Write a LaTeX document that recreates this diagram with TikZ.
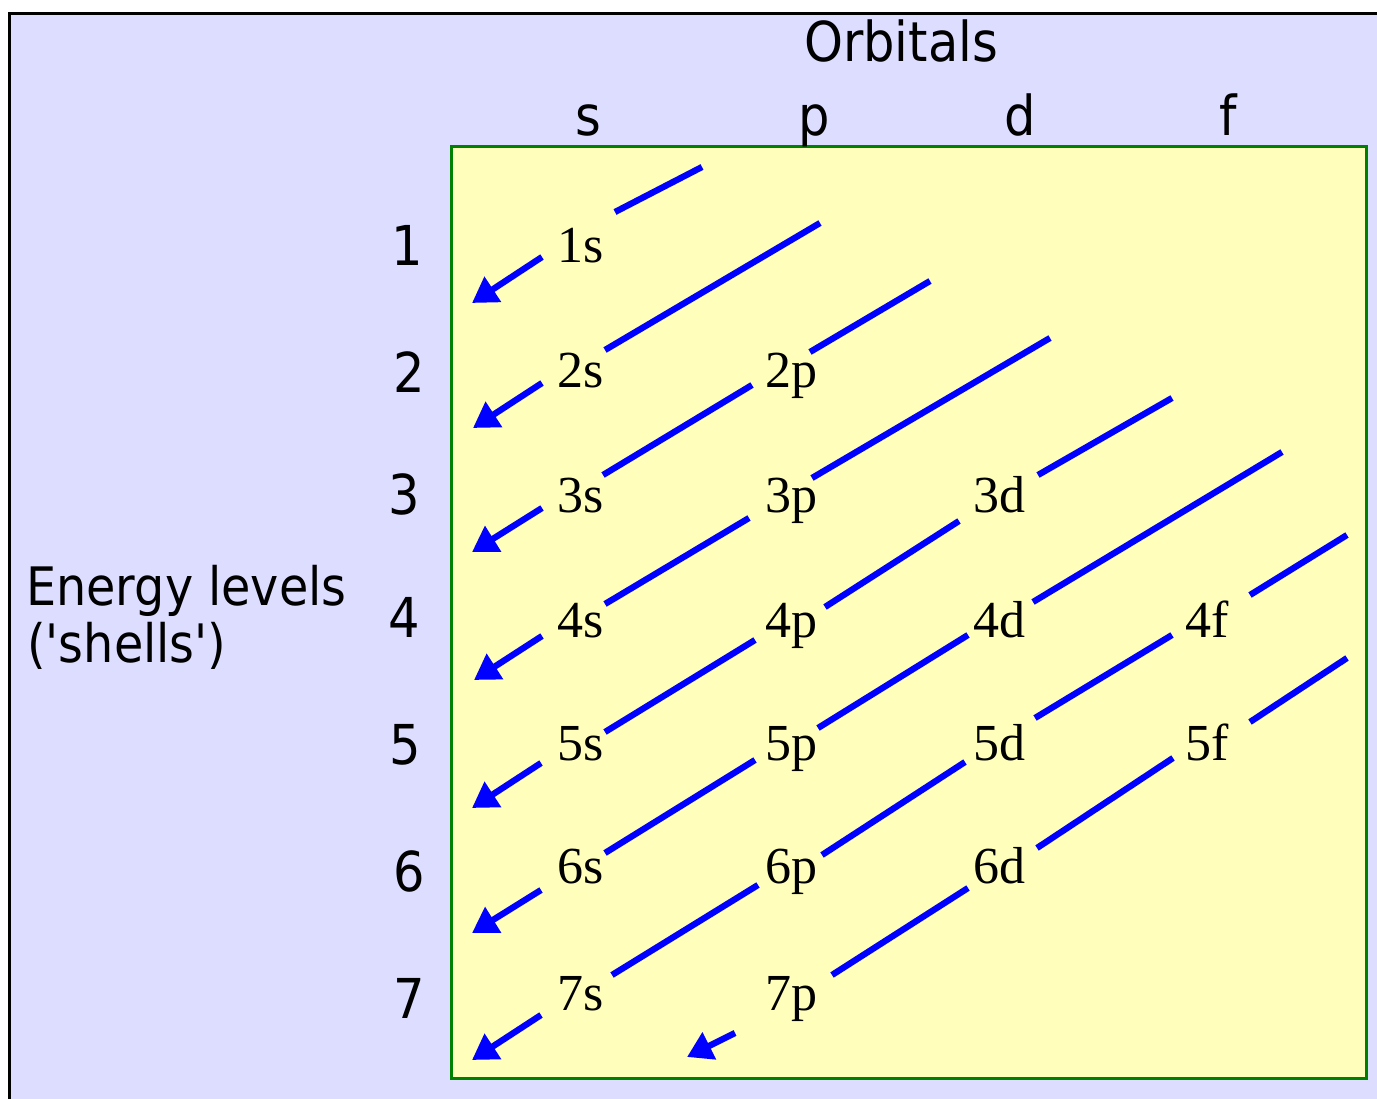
\documentclass[tikz,border=0pt]{standalone}
\usepackage{fontspec}
\setmainfont{Liberation Serif}
\newfontfamily\vsans[FakeStretch=0.9]{DejaVu Sans}
\usetikzlibrary{arrows.meta}
\definecolor{bglav}{HTML}{DDDDFF}
\definecolor{paleyel}{HTML}{FFFFBB}
\definecolor{boxgreen}{HTML}{008000}
\definecolor{arrblue}{HTML}{0000FF}
\begin{document}
\begin{tikzpicture}[x=1pt,y=-1pt,
  orb/.style={anchor=base west,inner sep=0pt,font=\fontsize{52}{60}\selectfont},
  num/.style={anchor=base,inner sep=0pt,font=\vsans\fontsize{55}{66}\selectfont},
  elab/.style={anchor=base west,inner sep=0pt,font=\vsans\fontsize{53}{60}\selectfont},
  seg/.style={arrblue,line width=6.3pt},
  arr/.style={seg,-{Triangle[length=25pt,width=29pt]}}]
\useasboundingbox (0,0) rectangle (1377,1099);
\fill[white] (0,0) rectangle (1377,1099);
% outer panel
\fill[bglav] (9.8,13.8) rectangle (1377,1099);
\draw[black,line width=3.3pt] (9.8,1099) -- (9.8,13.8) -- (1377,13.8);
% yellow box
\draw[boxgreen,fill=paleyel,line width=3.3pt] (451.7,146.7) rectangle (1366.7,1078.3);

% headers
\node[num] (orbitals) at (901,62) {Orbitals};
\node[num] (hs) at (588,136) {s};
\node[num] (hp) at (814,136) {p};
\node[num] (hd) at (1020,136) {d};
\node[num] (hf) at (1228,136) {f};

% energy levels
\node[elab] (energy1) at (26,605) {Energy levels};
\node[elab] (energy2) at (27,662) {('shells')};
\node[num] (n1) at (407,266) {1};
\node[num] (n2) at (409,392) {2};
\node[num] (n3) at (404,514) {3};
\node[num] (n4) at (404,637) {4};
\node[num] (n5) at (405,764) {5};
\node[num] (n6) at (409,891) {6};
\node[num] (n7) at (409,1018) {7};

% orbital labels
\node[orb] (o1s) at (557,263) {1s};
\node[orb] (o2s) at (557,388) {2s};
\node[orb] (o3s) at (557,512) {3s};
\node[orb] (o4s) at (557,637) {4s};
\node[orb] (o5s) at (557,760) {5s};
\node[orb] (o6s) at (557,883) {6s};
\node[orb] (o7s) at (557,1010) {7s};
\node[orb] (o2p) at (765,388) {2p};
\node[orb] (o3p) at (765,512) {3p};
\node[orb] (o4p) at (765,637) {4p};
\node[orb] (o5p) at (765,760) {5p};
\node[orb] (o6p) at (765,883) {6p};
\node[orb] (o7p) at (765,1010) {7p};
\node[orb] (o3d) at (973,512) {3d};
\node[orb] (o4d) at (973,637) {4d};
\node[orb] (o5d) at (973,760) {5d};
\node[orb] (o6d) at (973,883) {6d};
\node[orb] (o4f) at (1185,637) {4f};
\node[orb] (o5f) at (1185,760) {5f};

% segment end points
\coordinate (c1a) at (615,212);   \coordinate (c1b) at (702,167);
\coordinate (c2a) at (605,350);   \coordinate (c2b) at (820,223);
\coordinate (c3a) at (810,352);   \coordinate (c3b) at (930,281);
\coordinate (c4a) at (603,475);   \coordinate (c4b) at (752,385);
\coordinate (c5a) at (812,478);   \coordinate (c5b) at (1050,338);
\coordinate (c6a) at (605,604);   \coordinate (c6b) at (749,518);
\coordinate (c7a) at (1038,475);  \coordinate (c7b) at (1172,398);
\coordinate (c8a) at (825,607);   \coordinate (c8b) at (959,521);
\coordinate (c9a) at (605,732);   \coordinate (c9b) at (755,640);
\coordinate (c10a) at (1033,602); \coordinate (c10b) at (1282,452);
\coordinate (c11a) at (818,728);  \coordinate (c11b) at (968,635);
\coordinate (c12a) at (605,853);  \coordinate (c12b) at (755,760);
\coordinate (c13a) at (1250,595); \coordinate (c13b) at (1347,535);
\coordinate (c14a) at (1035,718); \coordinate (c14b) at (1172,635);
\coordinate (c15a) at (822,855);  \coordinate (c15b) at (965,762);
\coordinate (c16a) at (612,975);  \coordinate (c16b) at (758,885);
\coordinate (c17a) at (1250,722); \coordinate (c17b) at (1347,658);
\coordinate (c18a) at (1037,848); \coordinate (c18b) at (1173,758);
\coordinate (c19a) at (832,975);  \coordinate (c19b) at (968,888);
% arrow start / tip points
\coordinate (a1s) at (542,257);  \coordinate (a1t) at (472,303);
\coordinate (a2s) at (542,383);  \coordinate (a2t) at (473,428);
\coordinate (a3s) at (542,508);  \coordinate (a3t) at (472,552);
\coordinate (a4s) at (542,636);  \coordinate (a4t) at (474,680);
\coordinate (a5s) at (541,763);  \coordinate (a5t) at (472,808);
\coordinate (a6s) at (541,890);  \coordinate (a6t) at (472,933);
\coordinate (a7s) at (541,1015); \coordinate (a7t) at (472,1060);
\coordinate (a8s) at (735,1033); \coordinate (a8t) at (687,1057);

\foreach \i in {1,...,19} \draw[seg] (c\i a) -- (c\i b);
\foreach \i in {1,...,8} \draw[arr] (a\i s) -- (a\i t);
\end{tikzpicture}
\end{document}
